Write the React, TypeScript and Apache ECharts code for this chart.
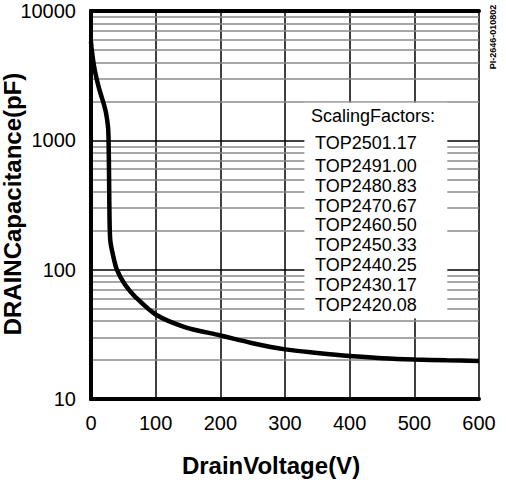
import React, { useEffect, useRef } from "react";
import * as echarts from "echarts";

const voltage = [0, 1.2, 4, 7.4, 11.7, 16, 19.5, 23.2, 26.3, 27.2, 28, 28.7, 29.8, 33, 40, 53, 68, 100, 145, 200, 250, 300, 350, 400, 450, 500, 550, 600];
const capacitance = [5800, 4990, 3940, 3200, 2600, 2200, 1930, 1630, 1270, 1000, 490, 242, 169, 137, 100, 76, 62, 45, 36, 31, 27, 24.2, 22.7, 21.5, 20.7, 20.2, 19.9, 19.7];
const minorLines = [20, 30, 40, 50, 60, 70, 80, 90, 200, 300, 400, 500, 600, 700, 800, 900, 2000, 3000, 4000, 5000, 6000, 7000, 8000, 9000];
const legendTitle = "ScalingFactors:";
const legendItems = ["TOP2501.17", "TOP2491.00", "TOP2480.83", "TOP2470.67", "TOP2460.50", "TOP2450.33", "TOP2440.25", "TOP2430.17", "TOP2420.08"];
const boxX = [330, 551];
const boxY = [1950, 42];

const FONT = "'Liberation Sans', Arial, Helvetica, sans-serif";

export default function App() {
  const ref = useRef<HTMLDivElement>(null);
  useEffect(() => {
    if (!ref.current) return;
    const chart = echarts.init(ref.current, undefined, { renderer: "svg" });
    const frameLine = { show: true, lineStyle: { color: "#000", width: 4 } };
    const hidden = {
      axisLabel: { show: false },
      axisTick: { show: false },
      splitLine: { show: false },
    };
    const option: any = {
      animation: false,
      backgroundColor: "#fff",
      grid: { left: 91, right: 27, top: 11, bottom: 81 },
      xAxis: [
        {
          type: "value",
          min: 0,
          max: 600,
          interval: 100,
          position: "bottom",
          axisLine: { show: false },
          axisTick: { show: false },
          axisLabel: { color: "#000", fontSize: 20, fontFamily: FONT, margin: 14 },
          splitLine: { show: true, lineStyle: { color: "#000", width: 1.5 } },
          z: 0,
        },
        { type: "value", min: 0, max: 600, position: "top", axisLine: frameLine, ...hidden, z: 10 },
        { type: "value", min: 0, max: 600, position: "bottom", axisLine: frameLine, ...hidden, z: 10 },
      ],
      yAxis: [
        {
          type: "log",
          logBase: 10,
          min: 10,
          max: 10000,
          position: "left",
          axisLine: { show: false },
          axisTick: { show: false },
          axisLabel: { color: "#000", fontSize: 20, fontFamily: FONT, margin: 15, formatter: (v: number) => String(v) },
          splitLine: { show: true, lineStyle: { color: "#000", width: 1.5 } },
          z: 0,
        },
        { type: "log", logBase: 10, min: 10, max: 10000, position: "right", axisLine: frameLine, ...hidden, z: 10 },
        { type: "log", logBase: 10, min: 10, max: 10000, position: "left", axisLine: frameLine, ...hidden, z: 10 },
      ],
      series: [
        {
          type: "line",
          data: [],
          xAxisIndex: 0,
          yAxisIndex: 0,
          markLine: {
            z: 1,
            silent: true,
            symbol: "none",
            label: { show: false },
            lineStyle: { color: "#8a8a8a", width: 1.5, type: "solid" },
            data: minorLines.map((v) => ({ yAxis: v })),
          },
        },
        {
          type: "line",
          xAxisIndex: 0,
          yAxisIndex: 0,
          z: 4,
          smooth: 0.3,
          showSymbol: false,
          symbol: "none",
          lineStyle: { color: "#000", width: 4.5 },
          data: voltage.map((v, i) => [v, capacitance[i]]),
          markArea: {
            z: 3,
            silent: true,
            itemStyle: { color: "#fff", opacity: 1 },
            data: [[{ xAxis: boxX[0], yAxis: boxY[0] }, { xAxis: boxX[1], yAxis: boxY[1] }]],
          },
        },
      ],
      graphic: [
        {
          type: "text",
          z: 20,
          x: 373,
          y: 116,
          style: { text: legendTitle, fill: "#000", font: `18px ${FONT}`, textAlign: "center", textVerticalAlign: "middle" },
        },
        ...legendItems.map((t, i) => ({
          type: "text",
          z: 20,
          x: 315,
          y: i === 0 ? 142.5 : 166 + (i - 1) * 19.8,
          style: { text: t, fill: "#000", font: `18px ${FONT}`, textAlign: "left", textVerticalAlign: "middle" },
        })),
        {
          type: "text",
          z: 20,
          x: 271,
          y: 465,
          style: { text: "DrainVoltage(V)", fill: "#000", font: `bold 24px ${FONT}`, textAlign: "center", textVerticalAlign: "middle" },
        },
        {
          type: "text",
          z: 20,
          x: 12,
          y: 204,
          rotation: Math.PI / 2,
          style: { text: "DRAINCapacitance(pF)", fill: "#000", font: `bold 24px ${FONT}`, textAlign: "center", textVerticalAlign: "middle" },
        },
        {
          type: "text",
          z: 20,
          x: 493,
          y: 37,
          rotation: Math.PI / 2,
          style: { text: "PI-2646-010802", fill: "#000", font: `bold 9px ${FONT}`, textAlign: "center", textVerticalAlign: "middle" },
        },
      ],
    };
    chart.setOption(option);
    return () => chart.dispose();
  }, []);
  return <div ref={ref} style={{ width: 506, height: 480, position: "absolute", left: 0, top: 0 }} />;
}
